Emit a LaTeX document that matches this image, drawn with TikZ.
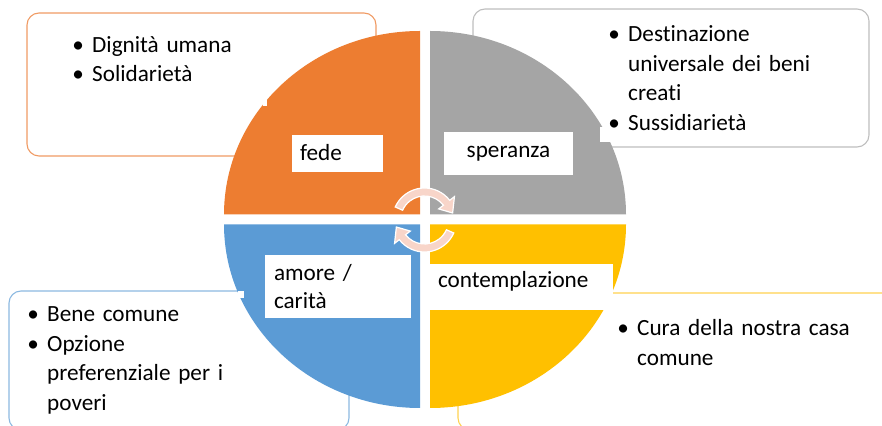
\documentclass[tikz,border=0pt]{standalone}
\usepackage{fontspec}
\setmainfont{Carlito}[Ligatures=NoCommon, WordSpace=0.85]
\usetikzlibrary{positioning}

\definecolor{fedeorange}{RGB}{237,125,49}
\definecolor{speranzagray}{RGB}{165,165,165}
\definecolor{amoreblue}{RGB}{91,155,213}
\definecolor{contemplyellow}{RGB}{255,192,0}
\definecolor{fedeline}{RGB}{240,155,100}
\definecolor{speranzaline}{RGB}{190,190,190}
\definecolor{amoreline}{RGB}{140,185,225}
\definecolor{contemplline}{RGB}{255,210,80}
\definecolor{cyclepink}{RGB}{248,213,201}

\newcommand{\blt}{\makebox[28pt]{\textbullet}}
\newcommand{\cont}{\hspace*{28pt}}

\begin{document}
\begin{tikzpicture}[x=1pt, y=1pt,
    infobox/.style={rectangle, rounded corners=12pt, line width=1.1pt, fill=white},
    bullets/.style={anchor=base west, inner sep=0pt, text width=300pt, align=left, font=\fontsize{23.2}{29.5}\selectfont},
    quadlabel/.style={rectangle, fill=white, inner sep=0pt, font=\fontsize{23.2}{28.5}\selectfont}]
    \clip (0,0) rectangle (882,425);

    % Outer boxes
    \node [infobox, draw=fedeline, minimum width=349pt, minimum height=143pt] (dignitabox) at (201.5,340.5) {};
    \node [infobox, draw=speranzaline, minimum width=396pt, minimum height=138pt] (destinbox) at (671,347) {};
    \node [infobox, draw=amoreline, minimum width=340pt, minimum height=139pt] (benebox) at (179,64.5) {};
    \node [infobox, draw=contemplline, minimum width=442pt, minimum height=137pt] (curabox) at (679,63.5) {};

    % Quarters
    \fill [fedeorange] (420,210.5) -- (224,210.5) arc[start angle=180, end angle=90, x radius=196, y radius=183.5] -- cycle;
    \fill [speranzagray] (430,210.5) -- (430,394) arc[start angle=90, end angle=0, x radius=196, y radius=183.5] -- cycle;
    \fill [amoreblue] (420,200.5) -- (224,200.5) arc[start angle=180, end angle=270, x radius=196, y radius=183.5] -- cycle;
    \fill [contemplyellow] (430,200.5) -- (626,200.5) arc[start angle=0, end angle=-90, x radius=196, y radius=183.5] -- cycle;

    % Notches
    \fill [white] (263,319) rectangle (267,326);
    \fill [white] (600,283) rectangle (616,298);
    \fill [white] (238,127) rectangle (244,134);

    % Bullet texts
    \node [bullets] (dignita) at (64,372.5) {\blt Dignità umana\\\blt Solidarietà};
    \node [bullets] (destin) at (600,383) {\blt Destinazione\\\cont universale dei beni\\\cont creati\\\blt Sussidiarietà};
    \node [bullets] (bene) at (19,103) {\blt Bene comune\\\blt Opzione\\\cont preferenziale per i\\\cont poveri};
    \node [bullets] (cura) at (609,89) {\blt Cura della nostra casa\\\cont comune};

    % Labels
    \node [quadlabel, minimum width=91pt, minimum height=37pt, text width=75pt, align=left, text height=17pt, text depth=3pt] (fede) at (337.5,271.5) {fede};
    \node [quadlabel, minimum width=129pt, minimum height=43pt] (speranza) at (508.5,271.5) {speranza};
    \node [quadlabel, minimum width=146pt, minimum height=63pt, text width=128pt, align=left] (amore) at (338,138.5) {amore /\\carità};
    \node [quadlabel, minimum width=183pt, minimum height=46pt, text width=167pt, align=left, text height=15pt, text depth=14pt] (contempl) at (521.5,138) {contemplazione};

    % Cycle arrows
    \foreach \turn in {0,180} {
        \filldraw [draw=white, line width=1.2pt, fill=cyclepink, shift={(424.5,205)}, rotate=\turn]
            (156:32) arc[start angle=156, end angle=38, radius=32] -- (38:38) -- (14:29) -- (38:18) -- (38:24)
            arc[start angle=38, end angle=156, radius=24] -- cycle;
    }
\end{tikzpicture}
\end{document}
